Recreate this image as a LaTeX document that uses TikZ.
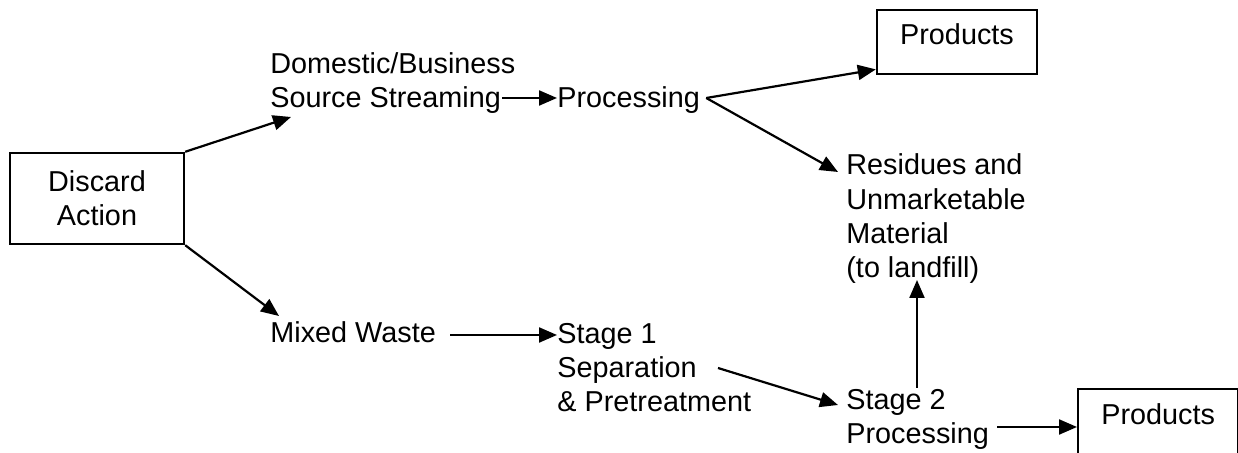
\documentclass[tikz,border=0pt]{standalone}
\usepackage{fontspec}
\setmainfont{Liberation Sans}
\usetikzlibrary{arrows.meta,calc}
\tikzset{
  txt/.style={inner sep=0pt, align=left, font=\fontsize{14.4}{17.2}\selectfont},
  boxnode/.style={draw, line width=1.2pt, font=\fontsize{14.4}{17.2}\selectfont},
  arr/.style={line width=1.1pt, -{Triangle[length=9pt,width=7.5pt]}}
}
\begin{document}
\begin{tikzpicture}[x=0.5pt,y=-0.5pt]
\useasboundingbox (0,0) rectangle (1238,453);
\clip (0,0) rectangle (1238,453);
% nodes
\node[boxnode, align=center, minimum width=87pt, minimum height=45.5pt, inner sep=0pt] (disc) at (97,198.5) {Discard\\Action};
\node[txt, anchor=base west] (dom) at (270,108) {Domestic/Business\\Source Streaming};
\node[txt, anchor=base west] (proc) at (557,108) {Processing};
\node[boxnode, anchor=north, minimum width=80pt, inner xsep=0pt, inner ysep=0pt, text height=17pt, text depth=15pt] (top) at (957,9) {Products};
\node[txt, anchor=base west] (res) at (846,278) {Residues and\\Unmarketable\\Material\\(to landfill)};
\node[txt, anchor=base west] (mix) at (270,343) {Mixed Waste};
\node[txt, anchor=base west] (st1) at (557,412) {Stage 1\\Separation\\\& Pretreatment};
\node[txt, anchor=base west] (st2) at (846,444) {Stage 2\\Processing};
\node[boxnode, anchor=north west, minimum width=80pt, inner xsep=0pt, inner ysep=0pt, text height=17.5pt, text depth=20pt] (bot) at (1077,388) {Products};
% connectors
\draw[arr] (disc.north east) -- ($(dom.base west)+(21,9)$);
\draw[arr] ($(dom.base west)+(232,-10)$) -- ($(proc.base west)+(0,-10)$);
\draw[arr] ($(proc.base east)+(6,-10)$) -- ($(top.south west)+(0,-6)$);
\draw[arr] ($(proc.base east)+(6,-10)$) -- ($(res.base west)+(-8,-106)$);
\draw[arr] (disc.south east) -- ($(mix.base west)+(9,-27)$);
\draw[arr] ($(mix.base east)+(14,-8)$) -- ($(st1.base west)+(0,-77)$);
\draw[arr] ($(st1.base west)+(161,-44)$) -- ($(st2.base west)+(-8,-39)$);
\draw[arr] ($(st2.base west)+(71,-56)$) -- ($(res.base west)+(71,2)$);
\draw[arr] ($(st2.base west)+(151,-17)$) -- ($(bot.north west)+(0,39)$);
\end{tikzpicture}
\end{document}
